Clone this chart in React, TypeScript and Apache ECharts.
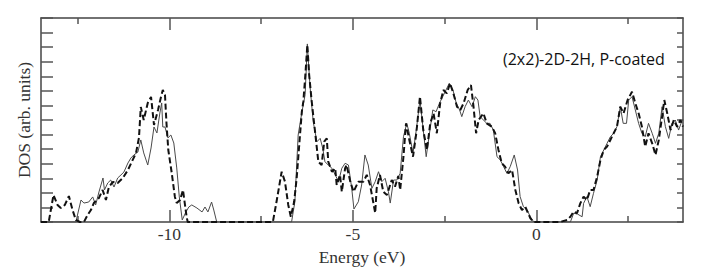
import React, { useEffect, useRef } from "react";
import * as echarts from "echarts";

// Energy (eV) / DOS pairs for the solid curve
const solidCurve: [number, number][] = [
  [-13.5, 0], [-12.55, 0], [-12.41, 1.51], [-12.33, 1.3], [-12.2, 1.37], [-12.09, 1.72], [-12.01, 1.17],
  [-11.92, 2.06], [-11.81, 3.02], [-11.77, 2.2], [-11.68, 2.68], [-11.6, 2.88], [-11.51, 2.4], [-11.41, 3.02],
  [-11.32, 3.23], [-11.24, 3.43], [-11.13, 4.05], [-11.05, 4.39], [-10.97, 4.6], [-10.86, 4.8], [-10.78, 5.63],
  [-10.7, 4.74], [-10.59, 3.91], [-10.5, 5.08], [-10.42, 6.52], [-10.34, 6.11], [-10.26, 7.48], [-10.21, 8.17],
  [-10.18, 6.52], [-10.12, 6.52], [-10.04, 5.77], [-9.96, 5.97], [-9.88, 5.42], [-9.8, 3.71], [-9.73, 1.72],
  [-9.65, 0.14], [-9.55, 0.69], [-9.47, 1.03], [-9.39, 1.17], [-9.25, 0.96], [-9.11, 0.69], [-9.03, 1.03],
  [-8.95, 0.69], [-8.85, 1.37], [-8.79, 0.82], [-8.71, 0], [-6.67, 0], [-6.58, 1.39], [-6.49, 5.97],
  [-6.39, 7.51], [-6.3, 8.74], [-6.24, 12.22], [-6.17, 9.4], [-6.08, 6.88], [-5.98, 5.51], [-5.89, 5.74],
  [-5.82, 5.06], [-5.76, 4.14], [-5.67, 3.91], [-5.57, 3.69], [-5.48, 3.23], [-5.39, 2.77], [-5.3, 3.69],
  [-5.21, 4.03], [-5.12, 3.91], [-5.03, 2.31], [-4.97, 0.89], [-4.85, 1.39], [-4.76, 2.54], [-4.67, 4.6],
  [-4.58, 3.91], [-4.48, 2.31], [-4.39, 2.77], [-4.3, 3.45], [-4.21, 2.77], [-4.12, 3.0], [-4.03, 2.08],
  [-3.98, 1.3], [-3.89, 2.88], [-3.8, 2.88], [-3.71, 3.34], [-3.62, 5.85], [-3.53, 6.77], [-3.46, 6.09],
  [-3.36, 4.72], [-3.27, 6.31], [-3.17, 8.37], [-3.09, 6.54], [-3.0, 4.48], [-2.91, 6.09], [-2.82, 7.69],
  [-2.73, 7.57], [-2.64, 8.15], [-2.55, 8.6], [-2.46, 9.06], [-2.37, 9.52], [-2.27, 9.06], [-2.18, 8.15],
  [-2.09, 7.69], [-2.03, 7.23], [-1.94, 7.91], [-1.85, 8.37], [-1.75, 7.91], [-1.66, 8.6], [-1.59, 8.37],
  [-1.53, 7.23], [-1.44, 7.0], [-1.35, 6.77], [-1.26, 6.77], [-1.17, 6.31], [-1.07, 4.48], [-0.98, 4.26],
  [-0.89, 3.8], [-0.8, 3.34], [-0.71, 3.8], [-0.6, 4.6], [-0.51, 3.57], [-0.44, 1.74], [-0.35, 1.05],
  [-0.25, 0.82], [-0.16, 0.36], [-0.07, 0], [0.93, 0], [1.02, 0.6], [1.12, 0.55], [1.25, 0.36], [1.29, 1.28],
  [1.38, 1.74], [1.47, 1.05], [1.56, 1.97], [1.66, 2.88], [1.75, 4.48], [1.84, 4.94], [1.93, 5.4],
  [2.02, 5.85], [2.11, 6.09], [2.2, 6.54], [2.29, 7.91], [2.37, 6.77], [2.46, 6.77], [2.52, 8.37],
  [2.61, 8.6], [2.7, 7.69], [2.79, 6.77], [2.88, 6.09], [2.97, 5.85], [3.06, 6.77], [3.16, 6.09],
  [3.25, 5.4], [3.34, 6.09], [3.43, 7.91], [3.52, 6.54], [3.61, 5.74], [3.7, 6.77], [3.79, 7.0],
  [3.88, 6.31], [3.98, 7.0], [4.01, 7.0],
];

// Energy (eV) / DOS pairs for the dashed curve
const dashedCurve: [number, number][] = [
  [-13.5, 0], [-13.29, 0], [-13.16, 1.85], [-13.05, 1.17], [-12.96, 0.96], [-12.85, 1.17], [-12.74, 1.78],
  [-12.64, 0.82], [-12.55, 0.14], [-12.44, 0], [-12.33, 0], [-12.23, 0.48], [-12.14, 0.82], [-12.06, 1.3],
  [-11.92, 1.65], [-11.82, 2.2], [-11.73, 1.51], [-11.65, 2.4], [-11.54, 2.75], [-11.41, 2.68], [-11.27, 3.02],
  [-11.13, 3.57], [-11.0, 4.26], [-10.91, 4.74], [-10.83, 5.77], [-10.78, 7.89], [-10.7, 7.0], [-10.59, 8.17],
  [-10.5, 8.58], [-10.42, 6.66], [-10.31, 7.69], [-10.23, 8.58], [-10.18, 9.06], [-10.12, 8.72], [-10.08, 6.79],
  [-10.03, 4.94], [-9.94, 3.43], [-9.85, 1.72], [-9.8, 1.3], [-9.71, 1.51], [-9.63, 2.2], [-9.53, 0.34],
  [-9.5, 0], [-7.18, 0], [-7.08, 1.39], [-6.94, 3.45], [-6.85, 2.77], [-6.76, 1.17], [-6.69, 0.36],
  [-6.6, 1.39], [-6.53, 3.02], [-6.44, 5.97], [-6.39, 7.57], [-6.35, 8.26], [-6.3, 9.88], [-6.24, 12.15],
  [-6.19, 10.09], [-6.12, 8.26], [-6.03, 6.2], [-5.94, 4.14], [-5.85, 3.91], [-5.78, 5.51], [-5.71, 5.74],
  [-5.67, 4.14], [-5.57, 3.45], [-5.48, 3.69], [-5.44, 2.54], [-5.35, 3.23], [-5.3, 2.08], [-5.21, 3.69],
  [-5.17, 3.91], [-5.07, 2.77], [-4.98, 2.08], [-4.85, 2.77], [-4.71, 2.77], [-4.62, 3.23], [-4.53, 2.54],
  [-4.39, 0.62], [-4.35, 2.31], [-4.26, 3.23], [-4.17, 2.08], [-4.07, 1.85], [-3.94, 2.88], [-3.85, 2.43],
  [-3.76, 3.16], [-3.71, 2.2], [-3.62, 4.48], [-3.55, 6.77], [-3.46, 5.63], [-3.36, 4.48], [-3.27, 6.09],
  [-3.17, 8.6], [-3.08, 6.31], [-2.98, 4.94], [-2.89, 6.77], [-2.8, 7.46], [-2.71, 6.09], [-2.62, 8.15],
  [-2.53, 9.06], [-2.44, 8.83], [-2.35, 9.52], [-2.26, 8.83], [-2.16, 7.91], [-2.07, 7.69], [-1.98, 8.15],
  [-1.87, 9.06], [-1.78, 9.4], [-1.71, 7.91], [-1.64, 6.09], [-1.57, 7.0], [-1.44, 7.46], [-1.35, 6.77],
  [-1.21, 6.54], [-1.12, 6.09], [-1.03, 4.94], [-0.94, 4.03], [-0.85, 3.8], [-0.76, 3.34], [-0.66, 3.57],
  [-0.57, 2.2], [-0.48, 1.28], [-0.39, 0.82], [-0.3, 1.05], [-0.16, 0.25], [-0.07, 0], [0.65, 0],
  [0.84, 0.14], [0.93, 0.36], [1.02, 0.71], [1.11, 0.6], [1.2, 1.28], [1.29, 1.74], [1.38, 1.51],
  [1.47, 2.2], [1.56, 2.2], [1.66, 3.11], [1.75, 4.26], [1.84, 4.94], [1.93, 5.17], [2.02, 5.63],
  [2.11, 6.09], [2.2, 6.54], [2.29, 7.91], [2.38, 7.46], [2.49, 8.37], [2.61, 8.94], [2.7, 8.15],
  [2.79, 7.46], [2.88, 6.54], [2.97, 5.17], [3.06, 6.09], [3.16, 5.4], [3.25, 4.6], [3.34, 5.63],
  [3.43, 7.23], [3.49, 8.37], [3.57, 7.46], [3.66, 6.31], [3.75, 7.0], [3.84, 6.54], [3.93, 7.0], [4.0, 6.54],
];

const majorTicks = [-10, -5, 0];
const minorTicks = [-12.5, -7.5, -2.5, 2.5];
const xMin = -13.5;
const xMax = 4.0;
const yMin = 0;
const yMax = 14;
const annotation = "(2x2)-2D-2H, P-coated";

const serif = "'Liberation Serif', 'Times New Roman', serif";

export default function App() {
  const ref = useRef<HTMLDivElement>(null);
  useEffect(() => {
    if (!ref.current) return;
    const chart = echarts.init(ref.current, undefined, { renderer: "svg" });
    const lineStyle = { color: "#444", width: 1.5 };
    const tickStyle = { color: "#555", width: 1.5 };
    const xBase = {
      type: "value" as const,
      min: xMin,
      max: xMax,
      splitLine: { show: false },
      gridIndex: 0,
    };
    chart.setOption({
      animation: false,
      backgroundColor: "#fff",
      grid: { left: 41, right: 30, top: 18, bottom: 53, containLabel: false },
      xAxis: [
        {
          ...xBase,
          position: "bottom",
          name: "Energy (eV)",
          nameLocation: "middle",
          nameGap: 13,
          nameTextStyle: { fontFamily: serif, fontSize: 17.5, color: "#333" },
          axisLine: { show: true, onZero: false, lineStyle },
          axisTick: { show: true, inside: true, length: 12, lineStyle: tickStyle, customValues: majorTicks },
          axisLabel: { show: true, customValues: majorTicks, fontFamily: serif, fontSize: 17.5, color: "#333", margin: 3 },
        },
        {
          ...xBase,
          position: "bottom",
          axisLine: { show: false, onZero: false },
          axisTick: { show: true, inside: true, length: 6, lineStyle: tickStyle, customValues: minorTicks },
          axisLabel: { show: false },
        },
        {
          ...xBase,
          position: "top",
          axisLine: { show: true, onZero: false, lineStyle },
          axisTick: { show: true, inside: true, length: 12, lineStyle: tickStyle, customValues: majorTicks },
          axisLabel: { show: false },
        },
        {
          ...xBase,
          position: "top",
          axisLine: { show: false, onZero: false },
          axisTick: { show: true, inside: true, length: 6, lineStyle: tickStyle, customValues: minorTicks },
          axisLabel: { show: false },
        },
      ],
      yAxis: [
        {
          type: "value",
          position: "left",
          min: yMin,
          max: yMax,
          interval: 1,
          name: "DOS (arb. units)",
          nameLocation: "middle",
          nameGap: 8,
          nameTextStyle: { fontFamily: serif, fontSize: 17.5, color: "#333" },
          splitLine: { show: false },
          axisLine: { show: true, onZero: false, lineStyle },
          axisTick: { show: true, inside: true, length: 12, lineStyle: tickStyle },
          axisLabel: { show: false },
        },
        {
          type: "value",
          position: "right",
          min: yMin,
          max: yMax,
          interval: 1,
          splitLine: { show: false },
          axisLine: { show: true, onZero: false, lineStyle },
          axisTick: { show: true, inside: true, length: 6, lineStyle: tickStyle },
          axisLabel: { show: false },
        },
      ],
      graphic: [
        {
          type: "text",
          x: 503,
          y: 59,
          style: {
            text: annotation,
            font: "16px 'Open Sans', sans-serif",
            fill: "#111",
            verticalAlign: "middle",
            align: "left",
          },
        },
      ],
      series: [
        {
          type: "line",
          xAxisIndex: 0,
          yAxisIndex: 0,
          data: solidCurve,
          showSymbol: false,
          clip: true,
          lineStyle: { color: "#4a4a4a", width: 1 },
        },
        {
          type: "line",
          xAxisIndex: 0,
          yAxisIndex: 0,
          data: dashedCurve,
          showSymbol: false,
          clip: true,
          lineStyle: { color: "#111", width: 2, type: [6, 3] },
        },
      ],
    });
    return () => chart.dispose();
  }, []);
  return <div ref={ref} style={{ width: 713, height: 275, position: "absolute", left: 0, top: 0 }} />;
}
